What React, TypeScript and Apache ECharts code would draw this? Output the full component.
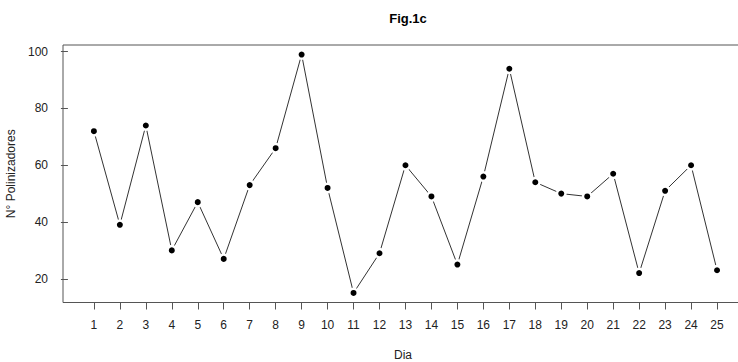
import React, { useEffect, useRef } from "react";
import * as echarts from "echarts";

const days = [1,2,3,4,5,6,7,8,9,10,11,12,13,14,15,16,17,18,19,20,21,22,23,24,25];
const pollinators = [72,39,74,30,47,27,53,66,99,52,15,29,60,49,25,56,94,54,50,49,57,22,51,60,23];
const yTicks = [20, 40, 60, 80, 100];

export default function App() {
  const ref = useRef<HTMLDivElement>(null);
  useEffect(() => {
    if (!ref.current) return;
    const chart = echarts.init(ref.current, null, { renderer: "svg" });
    const font = "Liberation Sans, Arial, sans-serif";
    chart.setOption({
      animation: false,
      backgroundColor: "#ffffff",
      title: {
        text: "Fig.1c",
        left: 403,
        top: 7,
        textAlign: "center",
        textStyle: { fontFamily: font, fontSize: 13, fontWeight: "bold", color: "#000" },
      },
      grid: {
        left: 63,
        top: 45,
        width: 680,
        height: 257.5,
        show: true,
        borderColor: "#555",
        borderWidth: 1,
        backgroundColor: "transparent",
        containLabel: false,
        outerBoundsMode: "none",
      },
      xAxis: {
        type: "value",
        min: -0.19,
        max: 26.0,
        name: "Dia",
        nameLocation: "middle",
        nameGap: 46,
        nameTextStyle: { fontFamily: font, fontSize: 12, color: "#222" },
        axisLine: { show: false },
        splitLine: { show: false },
        axisTick: { show: true, customValues: days, length: 7, lineStyle: { color: "#555" } },
        axisLabel: {
          customValues: days,
          margin: 16,
          fontFamily: font,
          fontSize: 12,
          color: "#222",
        },
      },
      yAxis: {
        type: "value",
        min: 11.64,
        max: 102.36,
        name: "N° Polinizadores",
        nameLocation: "middle",
        nameGap: 44,
        nameTextStyle: { fontFamily: font, fontSize: 12, color: "#222" },
        axisLine: { show: false },
        splitLine: { show: false },
        axisTick: { show: true, customValues: yTicks, length: 7, lineStyle: { color: "#555" } },
        axisLabel: {
          customValues: yTicks,
          margin: 15,
          fontFamily: font,
          fontSize: 12,
          color: "#222",
        },
      },
      series: [
        {
          type: "line",
          data: days.map((d, i) => [d, pollinators[i]]),
          symbol: "circle",
          symbolSize: 8.5,
          showAllSymbol: true,
          lineStyle: { color: "#333", width: 1 },
          itemStyle: { color: "#000", borderColor: "#fff", borderWidth: 2.5 },
          emphasis: { disabled: true },
        },
      ],
    });
    return () => chart.dispose();
  }, []);
  return (
    <div
      ref={ref}
      style={{ position: "absolute", left: 0, top: 0, width: 738, height: 362 }}
    />
  );
}
